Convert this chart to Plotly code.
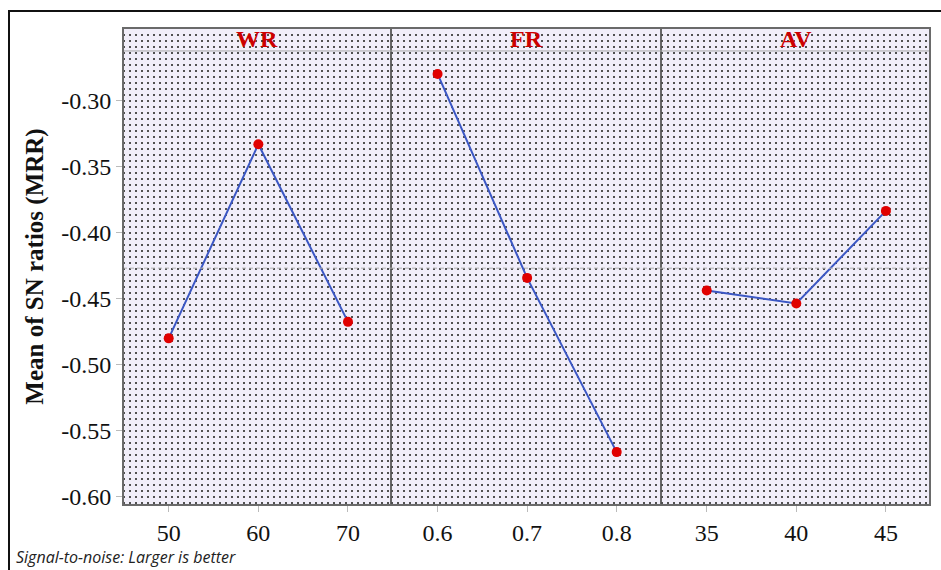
import plotly.graph_objects as go
from plotly.subplots import make_subplots

factors = ["WR", "FR", "AV"]
levels_wr = [50, 60, 70]
levels_fr = [0.6, 0.7, 0.8]
levels_av = [35, 40, 45]
sn_wr = [-0.4799, -0.3328, -0.4674]
sn_fr = [-0.2795, -0.4341, -0.5661]
sn_av = [-0.4437, -0.4535, -0.3833]
tick_labels_wr = ["50", "60", "70"]
tick_labels_fr = ["0.6", "0.7", "0.8"]
tick_labels_av = ["35", "40", "45"]
y_ticks = [-0.30, -0.35, -0.40, -0.45, -0.50, -0.55, -0.60]
y_tick_labels = ["-0.30", "-0.35", "-0.40", "-0.45", "-0.50", "-0.55", "-0.60"]

levels = [levels_wr, levels_fr, levels_av]
sns = [sn_wr, sn_fr, sn_av]
tick_labels = [tick_labels_wr, tick_labels_fr, tick_labels_av]
x_ranges = [[44.9, 74.8], [0.548, 0.8495], [32.45, 47.46]]

all_vals = sn_wr + sn_fr + sn_av
grand_mean = sum(all_vals) / len(all_vals)

Y_RANGE = [-0.6062, -0.2447]
STRIP_Y = -0.2621

fig = make_subplots(rows=1, cols=3, shared_yaxes=True, horizontal_spacing=0)

serif = "Liberation Serif, Times New Roman, serif"
for i in range(3):
    fig.add_trace(go.Scatter(
        x=levels[i], y=sns[i], mode="lines+markers",
        line=dict(color="#3b57c4", width=2),
        marker=dict(color="#e00000", size=10),
        showlegend=False, hoverinfo="x+y"), row=1, col=i + 1)

domains = [[0, 268 / 807], [268 / 807, 538 / 807], [538 / 807, 1]]
dot_style = dict(gridcolor="#505050", gridwidth=1.6, griddash="2px,4px")
for i in range(3):
    xa = "xaxis" if i == 0 else f"xaxis{i+1}"
    ya = "yaxis" if i == 0 else f"yaxis{i+1}"
    fig.layout[xa].update(
        domain=domains[i], range=x_ranges[i], tickvals=levels[i], ticktext=tick_labels[i],
        showgrid=False, zeroline=False, ticks="outside", ticklen=6, tickcolor="#bbbbbb",
        tickfont=dict(family=serif, size=24, color="#111111"),
        showline=True, mirror=True, linecolor="#666666", linewidth=1)
    fig.layout[ya].update(
        range=Y_RANGE, tickvals=y_ticks, ticktext=y_tick_labels, zeroline=False,
        showgrid=True, **dot_style,
        minor=dict(dtick=0.05 / 11, tick0=-0.30, showgrid=True, ticks="", **dot_style),
        showline=True, mirror=True, linecolor="#666666", linewidth=1,
        ticks="outside" if i == 0 else "", ticklen=6, tickcolor="#bbbbbb",
        tickfont=dict(family=serif, size=24, color="#111111"))
    ref = "x" if i == 0 else f"x{i+1}"
    fig.add_shape(type="line", xref=f"{ref} domain", yref="y", x0=0, x1=1,
                  y0=STRIP_Y, y1=STRIP_Y, line=dict(color="#a8a8a8", width=1))
    fig.add_shape(type="line", xref=f"{ref} domain", yref="y", x0=0, x1=1,
                  y0=grand_mean, y1=grand_mean, line=dict(color="#b0b0b0", width=1, dash="4px,3px"))
    fig.add_annotation(text=f"<b>{factors[i]}</b>", xref=f"{ref} domain", yref="y",
                       x=0.5, y=(STRIP_Y + Y_RANGE[1]) / 2, showarrow=False,
                       font=dict(family=serif, size=24, color="#cc0000"))

# outer plot frame (slightly heavier, as in the reference)
fig.add_shape(type="rect", xref="paper", yref="paper", x0=0, x1=1, y0=0, y1=1,
              line=dict(color="#6a6a6a", width=2), layer="above")

fig.update_layout(
    width=941, height=570,
    margin=dict(l=123, r=11, t=28, b=65),
    paper_bgcolor="white", plot_bgcolor="#f1eef9",
    yaxis_title=dict(text="<b>Mean of SN ratios (MRR)</b>",
                     font=dict(family=serif, size=25, color="#111111"), standoff=10),
)

fig.add_annotation(text="<i>Signal-to-noise: Larger is better</i>", xref="paper", yref="paper",
                   x=(14 - 123) / 807, y=(505 - 557) / 477, xanchor="left", yanchor="middle",
                   showarrow=False, font=dict(family="Open Sans", size=16, color="#222222"))

# outer frame
fig.add_shape(type="line", xref="paper", yref="paper",
              x0=(8 - 123) / 807, x1=(941 - 123) / 807, y0=(505 - 11) / 477, y1=(505 - 11) / 477,
              line=dict(color="#111111", width=2))
fig.add_shape(type="line", xref="paper", yref="paper",
              x0=(9 - 123) / 807, x1=(9 - 123) / 807, y0=(505 - 11) / 477, y1=(505 - 575) / 477,
              line=dict(color="#111111", width=2))

fig.write_html("out.html", config={"displayModeBar": False},
               post_script="document.body.style.margin='0';")
